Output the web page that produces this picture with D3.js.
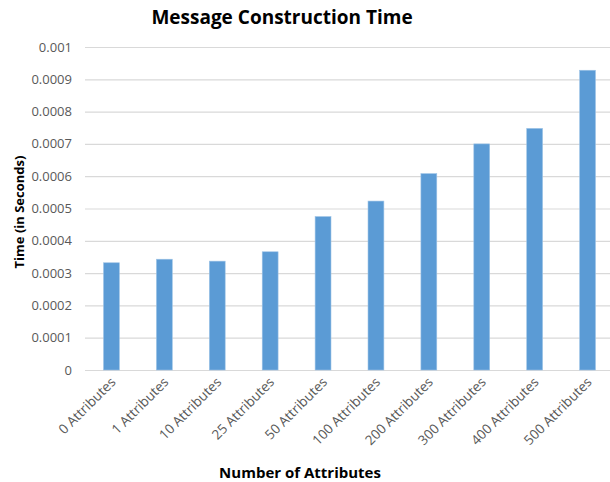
<!DOCTYPE html>
<html>
<head>
<meta charset="utf-8">
<script src="https://cdn.jsdelivr.net/npm/d3@7"></script>
<style>
  body { margin: 0; background: #fff; }
  text { font-family: "Open Sans", "Liberation Sans", sans-serif; }
</style>
</head>
<body>
<script>
// chart data
var categories = ["0 Attributes", "1 Attributes", "10 Attributes", "25 Attributes", "50 Attributes",
  "100 Attributes", "200 Attributes", "300 Attributes", "400 Attributes", "500 Attributes"]
var times = [0.000332, 0.000343, 0.000337, 0.000366, 0.000475, 0.000523, 0.000608, 0.000700, 0.000748, 0.000928]
var yTicks = [0, 0.0001, 0.0002, 0.0003, 0.0004, 0.0005, 0.0006, 0.0007, 0.0008, 0.0009, 0.001]

var width = 610, height = 482

var svg = d3.select("body").append("svg")
  .attr("width", width)
  .attr("height", height)

var x = d3.scaleBand()
  .domain(categories)
  .range([85, 614])
  .paddingInner(0.7)
  .paddingOuter(0.35)

var y = d3.scaleLinear()
  .domain([0, 0.001])
  .range([370, 47])

// gridlines
svg.append("g").selectAll("line")
  .data(yTicks)
  .join("line")
  .attr("x1", 85)
  .attr("x2", width)
  .attr("y1", d => y(d) + 0.5)
  .attr("y2", d => y(d) + 0.5)
  .attr("stroke", "#d9d9d9")
  .attr("stroke-width", 1.2)

// y tick labels
svg.append("g").selectAll("text")
  .data(yTicks)
  .join("text")
  .attr("x", 72)
  .attr("y", d => y(d))
  .attr("dy", "0.35em")
  .attr("text-anchor", "end")
  .attr("fill", "#595959")
  .style("font-size", "13px")
  .text(d => d === 0 ? "0" : d3.format("")(+d.toPrecision(1)))

// bars
svg.append("g").selectAll("rect")
  .data(categories)
  .join("rect")
  .attr("x", d => x(d))
  .attr("width", x.bandwidth())
  .attr("y", (d, i) => y(times[i]))
  .attr("height", (d, i) => y(0) - y(times[i]))
  .attr("fill", "#5b9bd5")
  .attr("stroke", "#9dc3e6")
  .attr("stroke-width", 0.6)

// x tick labels, rotated
svg.append("g").selectAll("text")
  .data(categories)
  .join("text")
  .attr("text-anchor", "end")
  .attr("transform", d => "translate(" + (x(d) + x.bandwidth() / 2 + 5) + ",383) rotate(-45)")
  .attr("fill", "#595959")
  .style("font-size", "13.5px")
  .text(d => d)

// titles
svg.append("text")
  .attr("x", 282)
  .attr("y", 24)
  .attr("text-anchor", "middle")
  .style("font-size", "19px")
  .style("font-weight", "bold")
  .attr("fill", "#000")
  .text("Message Construction Time")

svg.append("text")
  .attr("transform", "translate(24,212) rotate(-90)")
  .attr("text-anchor", "middle")
  .style("font-size", "13px")
  .style("font-weight", "bold")
  .text("Time (in Seconds)")

svg.append("text")
  .attr("x", 300)
  .attr("y", 478)
  .attr("text-anchor", "middle")
  .style("font-size", "15px")
  .style("font-weight", "bold")
  .text("Number of Attributes")
</script>
</body>
</html>
